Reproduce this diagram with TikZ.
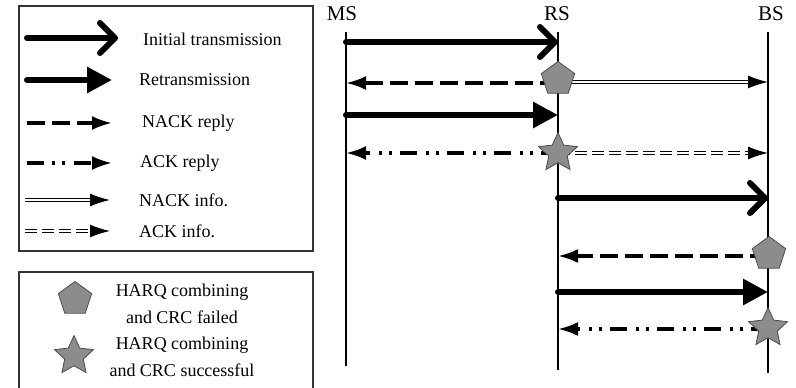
\documentclass[tikz,border=0pt]{standalone}
\usepackage{fontspec}
\setmainfont{Liberation Serif}
\usetikzlibrary{arrows.meta,shapes.geometric}
\definecolor{shapegray}{RGB}{140,140,140}
\begin{document}
\begin{tikzpicture}[x=1pt,y=-1pt,
  lifeline/.style={line width=1.3pt},
  legendbox/.style={draw=black!80,line width=1.3pt},
  initarrow/.style={line width=6pt,line cap=round,-{Straight Barb[length=15pt,width=30pt,line width=6pt,round]}},
  retrarrow/.style={line width=6pt,line cap=round,-{Triangle[length=25pt,width=25pt]}},
  nackreply/.style={line width=3.2pt,dash pattern=on 18pt off 7pt,-{Latex[length=20pt,width=14pt]}},
  ackreply/.style={line width=3.2pt,dash pattern=on 17pt off 8pt on 3pt off 7pt on 3pt off 9pt,-{Latex[length=20pt,width=14pt]}},
  nackinfo/.style={double,double distance=1.8pt,line width=1.3pt,-{Latex[length=20pt,width=13pt]}},
  ackinfo/.style={double,double distance=1.8pt,line width=1.3pt,dash pattern=on 12pt off 5pt,-{Latex[length=20pt,width=13pt]}},
  failshape/.style={regular polygon,regular polygon sides=5,minimum size=35pt,inner sep=0pt,fill=shapegray,draw=black!70,line width=0.8pt},
  okshape/.style={star,star points=5,star point ratio=2.1,minimum size=41pt,inner sep=0pt,fill=shapegray,draw=black!70,line width=0.8pt},
  legtext/.style={anchor=west,inner sep=0pt,font=\fontsize{18}{22}\selectfont},
  legtext2/.style={align=center,inner sep=0pt,font=\fontsize{18}{27}\selectfont},
  entity/.style={inner sep=0pt,font=\fontsize{21}{24}\selectfont}
]
\useasboundingbox (0,0) rectangle (796,388);

% ---------- legend box 1 ----------
\draw[legendbox] (19,6) rectangle (313,251);
\coordinate (l1a) at (27,38);  \coordinate (l1b) at (118,38);
\coordinate (l2a) at (27,80);  \coordinate (l2b) at (112,80);
\coordinate (l3a) at (27,123); \coordinate (l3b) at (112,123);
\coordinate (l4a) at (27,163); \coordinate (l4b) at (112,163);
\coordinate (l5a) at (25,200); \coordinate (l5b) at (110,200);
\coordinate (l6a) at (25,231); \coordinate (l6b) at (110,231);
\draw[initarrow] (l1a) -- (l1b);
\draw[retrarrow] (l2a) -- (l2b);
\draw[nackreply] (l3a) -- (l3b);
\draw[ackreply]  (l4a) -- (l4b);
\draw[nackinfo]  (l5a) -- (l5b);
\draw[ackinfo]   (l6a) -- (l6b);
\node[legtext] (t1) at (143,39)  {Initial transmission};
\node[legtext] (t2) at (139,80)  {Retransmission};
\node[legtext] (t3) at (142,123) {NACK reply};
\node[legtext] (t4) at (140,163) {ACK reply};
\node[legtext] (t5) at (139,200) {NACK info.};
\node[legtext] (t6) at (139,231) {ACK info.};

% ---------- legend box 2 ----------
\draw[legendbox] (19,390) -- (19,272) -- (313,272) -- (313,390);
\node[failshape] (lp) at (75,299) {};
\node[okshape]   (ls) at (74,356) {};
\node[legtext2] (t7) at (182,304) {HARQ combining\\and CRC failed};
\node[legtext2] (t8) at (182,357) {HARQ combining\\and CRC successful};

% ---------- entities and lifelines ----------
\node[entity] (ms) at (342,14) {MS};
\node[entity] (rs) at (557,14) {RS};
\node[entity] (bs) at (771,14) {BS};
\coordinate (mstop) at (346,32); \coordinate (msbot) at (346,366);
\coordinate (rstop) at (558,32); \coordinate (rsbot) at (558,370);
\coordinate (bstop) at (768,32); \coordinate (bsbot) at (768,373);
\draw[lifeline] (mstop) -- (msbot);
\draw[lifeline] (rstop) -- (rsbot);
\draw[lifeline] (bstop) -- (bsbot);

% message end points
\coordinate (m1) at (346,42);  \coordinate (r1) at (558,42);
\coordinate (m2) at (346,83);  \coordinate (r2) at (558,83);  \coordinate (b2) at (768,82);
\coordinate (m3) at (346,115); \coordinate (r3) at (558,115);
\coordinate (m4) at (346,153); \coordinate (r4) at (558,153); \coordinate (b4) at (768,153);
\coordinate (r5) at (558,198); \coordinate (b5) at (768,198);
\coordinate (r6) at (558,256); \coordinate (b6) at (768,256);
\coordinate (r7) at (558,292); \coordinate (b7) at (768,292);
\coordinate (r8) at (558,329); \coordinate (b8) at (768,329);

\draw[initarrow] (m1) -- (r1);
\draw[nackreply] (r2) -- (m2);
\draw[nackinfo]  (r2 |- b2) -- (b2);
\draw[retrarrow] (m3) -- (r3);
\draw[ackreply]  (r4) -- (m4);
\draw[ackinfo]   (r4) -- (b4);
\draw[initarrow] (r5) -- (b5);
\draw[nackreply] (b6) -- (r6);
\draw[retrarrow] (r7) -- (b7);
\draw[ackreply]  (b8) -- (r8);

\node[failshape] (p1) at (558,79)  {};
\node[okshape]   (s1) at (558,153) {};
\node[failshape] (p2) at (769,254) {};
\node[okshape]   (s2) at (768,328) {};
\end{tikzpicture}
\end{document}
